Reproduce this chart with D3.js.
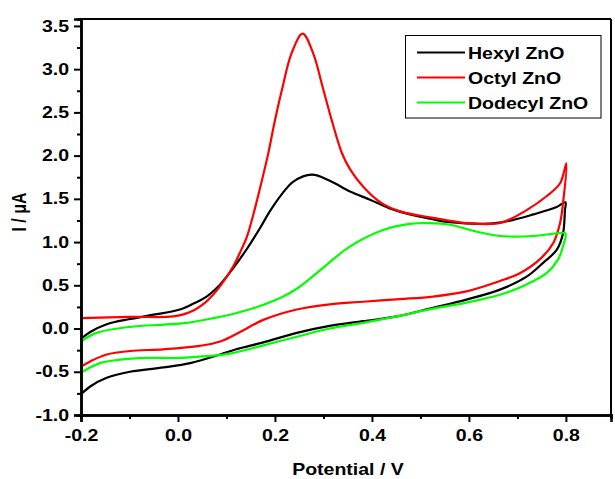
<!DOCTYPE html>
<html><head><meta charset="utf-8">
<script src="https://cdn.jsdelivr.net/npm/d3@7"></script>
<style>
html,body{margin:0;padding:0;background:#fff;}
svg text{font-family:"Liberation Sans",Arial,sans-serif;font-weight:bold;fill:#000;}
</style></head>
<body>
<svg id="c" width="615" height="479"></svg>
<script>
// ---- data ----
const seriesNames = ["Hexyl ZnO", "Octyl ZnO", "Dodecyl ZnO"];
const seriesColors = ["#000000", "#ff0000", "#00ff00"];

const hexylE = [-0.2,-0.181,-0.147,-0.099,-0.05,0.004,0.025,0.059,0.087,0.114,0.142,0.169,0.19,0.215,0.238,0.276,0.313,0.355,0.396,0.437,0.478,0.52,0.561,0.629,0.67,0.733,0.781,0.799,
  0.798,0.794,0.781,0.753,0.719,0.664,0.595,0.526,0.451,0.382,0.313,0.245,0.176,0.12,0.087,0.025,-0.03,-0.099,-0.147,-0.181,-0.2];
const hexylI = [-0.12,-0.04,0.05,0.11,0.16,0.22,0.27,0.37,0.51,0.70,0.92,1.16,1.36,1.56,1.70,1.78,1.71,1.585,1.49,1.39,1.32,1.27,1.23,1.21,1.23,1.32,1.405,1.46,
  1.37,1.10,0.91,0.76,0.60,0.45,0.335,0.24,0.14,0.085,0.03,-0.05,-0.16,-0.24,-0.30,-0.40,-0.45,-0.50,-0.57,-0.67,-0.76];

const octylE = [-0.2,-0.099,-0.01,0.025,0.059,0.087,0.114,0.128,0.142,0.155,0.169,0.186,0.2,0.216,0.234,0.257,0.279,0.298,0.317,0.338,0.355,0.382,0.42,0.458,0.526,0.595,0.664,0.719,0.76,0.788,0.801,
  0.794,0.788,0.774,0.746,0.705,0.664,0.595,0.526,0.458,0.382,0.313,0.245,0.176,0.128,0.087,0.045,-0.03,-0.099,-0.147,-0.181,-0.2];
const octylI = [0.12,0.135,0.14,0.19,0.315,0.49,0.72,0.88,1.06,1.31,1.62,2.02,2.41,2.80,3.18,3.41,3.18,2.80,2.41,2.03,1.84,1.64,1.45,1.355,1.28,1.22,1.22,1.37,1.53,1.68,1.91,
  1.45,1.22,0.99,0.80,0.64,0.55,0.43,0.37,0.34,0.31,0.28,0.22,0.10,-0.04,-0.15,-0.20,-0.24,-0.26,-0.30,-0.38,-0.44];

const dodecylE = [-0.2,-0.168,-0.099,-0.03,0.018,0.073,0.121,0.169,0.217,0.245,0.286,0.355,0.423,0.478,0.52,0.561,0.616,0.664,0.733,0.781,0.799,
  0.794,0.784,0.76,0.719,0.664,0.595,0.526,0.451,0.382,0.313,0.245,0.176,0.107,0.059,0.004,-0.065,-0.12,-0.161,-0.2];
const dodecylI = [-0.15,-0.05,0.02,0.045,0.065,0.12,0.18,0.26,0.37,0.46,0.64,0.95,1.14,1.21,1.22,1.20,1.12,1.07,1.07,1.10,1.10,
  0.95,0.80,0.64,0.51,0.39,0.30,0.23,0.14,0.065,0.0,-0.095,-0.195,-0.29,-0.32,-0.34,-0.34,-0.36,-0.40,-0.51];

const xTicks = [-0.2, 0.0, 0.2, 0.4, 0.6, 0.8];
const xMinor = [-0.1, 0.1, 0.3, 0.5, 0.7];
const yTicks = [-1.0, -0.5, 0.0, 0.5, 1.0, 1.5, 2.0, 2.5, 3.0, 3.5];
const yMinor = [-0.75, -0.25, 0.25, 0.75, 1.25, 1.75, 2.25, 2.75, 3.25];
const xDomain = [-0.2, 0.893];
const yDomain = [-1.0, 3.58];

// ---- layout ----
const L = 81, R = 611, T = 19, B = 415;
const SX = 1.22; // horizontal text stretch
const svg = d3.select("#c");
const x = d3.scaleLinear().domain(xDomain).range([L, R]);
const y = d3.scaleLinear().domain(yDomain).range([B, T]);

const fmt = d => d.toFixed(1);

// curves
const series = [[hexylE, hexylI], [octylE, octylI], [dodecylE, dodecylI]];
const line = d3.line().x(d => x(d[0])).y(d => y(d[1])).curve(d3.curveCatmullRom.alpha(0.5));
series.forEach((s, i) => {
  const pts = s[0].map((e, k) => [e, s[1][k]]);
  svg.append("path").attr("d", line(pts)).attr("fill", "none")
    .attr("stroke", seriesColors[i]).attr("stroke-width", 2.2).attr("stroke-linejoin", "round");
});

// frame (top/right)
svg.append("line").attr("x1", L).attr("x2", R).attr("y1", T).attr("y2", T).attr("stroke", "#000").attr("stroke-width", 2);
svg.append("line").attr("x1", R).attr("x2", R).attr("y1", T).attr("y2", B).attr("stroke", "#000").attr("stroke-width", 2);

// axes
const xAxis = svg.append("g").attr("transform", `translate(0,${B})`)
  .call(d3.axisBottom(x).tickValues(xTicks).tickFormat(fmt).tickSize(7).tickPadding(8));
const xAxisMinor = svg.append("g").attr("transform", `translate(0,${B})`)
  .call(d3.axisBottom(x).tickValues(xMinor).tickFormat("").tickSize(4));
const yAxis = svg.append("g").attr("transform", `translate(${L},0)`)
  .call(d3.axisLeft(y).tickValues(yTicks).tickFormat(fmt).tickSize(7).tickPadding(5));
const yAxisMinor = svg.append("g").attr("transform", `translate(${L},0)`)
  .call(d3.axisLeft(y).tickValues(yMinor).tickFormat("").tickSize(4));

[xAxis, xAxisMinor, yAxis, yAxisMinor].forEach(g => {
  g.select(".domain").attr("stroke", "#000").attr("stroke-width", 2.5);
  g.selectAll(".tick line").attr("stroke", "#000").attr("stroke-width", 2);
  g.selectAll("text").style("font-size", "16px").style("font-family", "'Liberation Sans',Arial,sans-serif")
    .style("font-weight", "bold").attr("fill", "#000");
});
xAxis.selectAll(".tick text").attr("transform", `scale(${SX},1)`);
yAxis.selectAll(".tick text").each(function () {
  const t = d3.select(this);
  const xx = +t.attr("x");
  t.attr("x", xx / SX).attr("transform", `scale(${SX},1)`);
});

// axis titles
svg.append("text").attr("transform", `translate(348,475) scale(${SX},1)`)
  .attr("text-anchor", "middle").style("font-size", "16px").text("Potential / V");
svg.append("text").attr("transform", `translate(26,212) rotate(-90) scale(1,${SX})`)
  .attr("text-anchor", "middle").style("font-size", "16px").text("I / μA");

// legend
const lg = svg.append("g");
lg.append("rect").attr("x", 405.5).attr("y", 35.5).attr("width", 195.5).attr("height", 82.5)
  .attr("fill", "#fff").attr("stroke", "#000").attr("stroke-width", 1);
const rowsY = [52.5, 77.5, 102.5];
seriesNames.forEach((n, i) => {
  lg.append("line").attr("x1", 417).attr("x2", 465).attr("y1", rowsY[i]).attr("y2", rowsY[i])
    .attr("stroke", seriesColors[i]).attr("stroke-width", 2.2);
  lg.append("text").attr("transform", `translate(468,${rowsY[i] + 6}) scale(${SX},1)`)
    .style("font-size", "16px").text(n);
});
</script>
</body></html>
